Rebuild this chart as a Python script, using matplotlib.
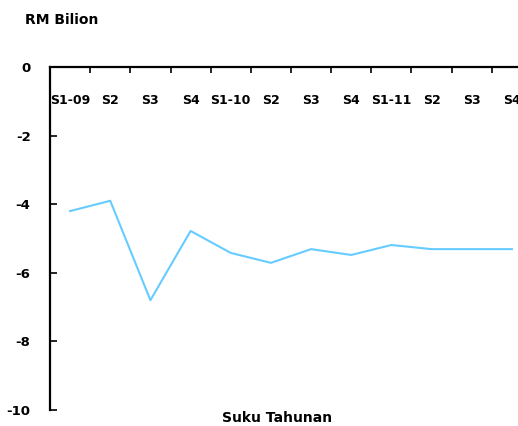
import matplotlib
matplotlib.use("Agg")
import matplotlib.pyplot as plt
import numpy as np

# quarterly values, RM billion
QUARTERS = ["S1-09", "S2", "S3", "S4", "S1-10", "S2", "S3", "S4", "S1-11", "S2", "S3", "S4"]
VALUES = [-4.2, -3.9, -6.8, -4.78, -5.42, -5.71, -5.31, -5.48, -5.19, -5.31, -5.31, -5.31]
YTICKS = [0, -2, -4, -6, -8, -10]

LINE_COLOR = "#66CCFF"
FONT = "DejaVu Sans"

fig = plt.figure(figsize=(5.18, 4.26), dpi=100)
ax = fig.add_axes([50 / 518, 1 - 410 / 426, 482 / 518, 343 / 426])

x = np.arange(len(QUARTERS))
ax.plot(x, VALUES, color=LINE_COLOR, lw=1.5)

ax.set_xlim(-0.5, len(QUARTERS) - 0.5)
ax.set_ylim(-10, 0)

for side in ("bottom", "right"):
    ax.spines[side].set_visible(False)
for side in ("top", "left"):
    ax.spines[side].set_linewidth(1.6)

# x axis sits on the zero line at the top; labels hang below it
ax.xaxis.tick_top()
ax.set_xticks(np.arange(-0.5, len(QUARTERS)), minor=False)
ax.set_xticklabels([])
ax.set_xticks(x, minor=True)
ax.set_xticklabels(QUARTERS, minor=True, fontsize=9, fontweight="bold", family=FONT)
ax.tick_params(axis="x", which="major", direction="in", length=4, width=1.2)
ax.tick_params(axis="x", which="minor", length=0, pad=-28.5)

ax.set_yticks(YTICKS)
ax.set_yticklabels([str(v) for v in YTICKS], fontsize=9.5, fontweight="bold", family=FONT)
ax.tick_params(axis="y", direction="in", length=5, width=1.2, pad=14)

fig.text(25 / 518, 1 - 20 / 426, "RM Bilion", fontsize=10, fontweight="bold",
         family=FONT, ha="left", va="center")
fig.text(277 / 518, 1 - 418 / 426, "Suku Tahunan", fontsize=10, fontweight="bold",
         family=FONT, ha="center", va="center")

fig.savefig("out.png", dpi=100)
